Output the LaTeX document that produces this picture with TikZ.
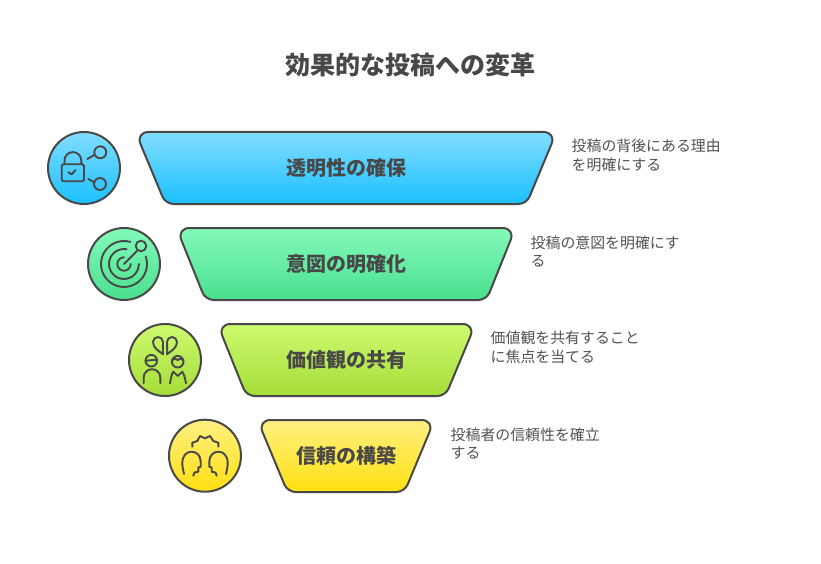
\documentclass[tikz,border=0pt]{standalone}
\usepackage{fontspec}
\setmainfont{Noto Sans CJK JP}
\definecolor{ink}{HTML}{484848}
\definecolor{note}{HTML}{525252}
\definecolor{bluetop}{HTML}{82DDFF}
\definecolor{bluebot}{HTML}{1AC0FF}
\definecolor{greentop}{HTML}{84FAB9}
\definecolor{greenbot}{HTML}{48E08F}
\definecolor{limetop}{HTML}{CDFA70}
\definecolor{limebot}{HTML}{A5DD38}
\definecolor{yellowtop}{HTML}{FFF082}
\definecolor{yellowbot}{HTML}{FFE010}
\tikzset{
   outline/.style={draw=ink, line width=2pt, line join=round, line cap=round},
   icon/.style={draw=ink, line width=1.9pt, line join=round, line cap=round},
   band/.style={outline},
   bandtext/.style={text=ink, font=\fontsize{20}{24}\selectfont\bfseries},
   desc/.style={text=note, anchor=west, align=left, inner sep=0pt, font=\fontsize{14.9}{18.5}\selectfont},
   titletext/.style={text=ink, font=\fontsize{25}{30}\selectfont\bfseries}
}

\begin{document}
\begin{tikzpicture}[x=1pt,y=-1pt]

   \useasboundingbox (0,0) rectangle (821,564);
   \fill[white] (0,0) rectangle (821,564);

   \node[titletext] (title) at (410,65.5) {効果的な投稿への変革};

   \draw[band, top color=bluetop, bottom color=bluebot] (346,132) [rounded corners=13pt] -- (135.5,132) [rounded corners=8pt] -- (165.5,204) -- (526.5,204) [rounded corners=13pt] -- (556.5,132) -- cycle;
   \draw[band, top color=greentop, bottom color=greenbot] (346,228) [rounded corners=13pt] -- (176.5,228) [rounded corners=8pt] -- (205.5,300) -- (486.5,300) [rounded corners=13pt] -- (515.5,228) -- cycle;
   \draw[band, top color=limetop, bottom color=limebot] (346,324) [rounded corners=13pt] -- (217.5,324) [rounded corners=8pt] -- (246.5,396) -- (445.5,396) [rounded corners=13pt] -- (475.5,324) -- cycle;
   \draw[band, top color=yellowtop, bottom color=yellowbot] (346,420) [rounded corners=13pt] -- (257.5,420) [rounded corners=8pt] -- (287.5,492) -- (404.5,492) [rounded corners=13pt] -- (434.5,420) -- cycle;

   \node[bandtext] (clear) at (346,168) {透明性の確保};
   \node[bandtext] (intent) at (346,264) {意図の明確化};
   \node[bandtext] (value) at (346,360) {価値観の共有};
   \node[bandtext] (trust) at (346,456) {信頼の構築};

   \node[desc] (clearnote) at (571.5,155.5) {投稿の背後にある理由\\を明確にする};
   \node[desc] (intentnote) at (530.5,251.5) {投稿の意図を明確にす\\る};
   \node[desc] (valuenote) at (490.5,347.5) {価値観を共有すること\\に焦点を当てる};
   \node[desc] (trustnote) at (450.5,443.5) {投稿者の信頼性を確立\\する};

   \draw[outline, top color=bluetop, bottom color=bluebot] (84,168) circle[radius=36];
   \draw[icon, rounded corners=1.5pt] (61.7,164.3) rectangle (84,181.3);
   \draw[icon] (64.5,164.3) -- (64.5,160.5) arc[start angle=180,end angle=360,radius=8.4] -- (81.3,164.3);
   \draw[icon] (68.3,172.3) -- (71.7,174.3) -- (75.5,170);
   \draw[icon] (87.3,159) -- (94.3,155);
   \draw[icon] (100.3,152.3) circle[radius=6];
   \draw[icon] (88.3,179) -- (94.3,182.3);
   \draw[icon] (100,184) circle[radius=6];

   \draw[outline, top color=greentop, bottom color=greenbot] (124,264) circle[radius=36];
   \draw[icon] (124,264) ++(-74:23) arc[start angle=-74,end angle=-379,radius=23];
   \draw[icon] (124,264) ++(-80:15) arc[start angle=-80,end angle=-360,radius=15];
   \draw[icon] (124,264) ++(-90:6.7) arc[start angle=-90,end angle=-360,radius=6.7];
   \draw[icon] (124,264) -- (137,251);
   \draw[icon] (141,246) circle[radius=5.3];

   \draw[outline, top color=limetop, bottom color=limebot] (165,360) circle[radius=36];
   \draw[icon] (163,354.3) .. controls (158,350.5) and (153,347.5) .. (153,342) arc[start angle=180,end angle=360,radius=5] .. controls (163,346) and (162.5,351) .. (163,354.3);
   \draw[icon] (167,354.3) .. controls (172,350.5) and (177,347.5) .. (177,342) arc[start angle=360,end angle=180,radius=5] .. controls (167,346) and (167.5,351) .. (167,354.3);
   \draw[icon] (151.3,360.7) circle[radius=5.8];
   \draw[icon] (145.5,360.7) -- (157.1,359.7);
   \draw[icon] (143.7,383.3) -- (143.7,377.5) arc[start angle=180,end angle=360,radius=8.3] -- (160.3,383.3);
   \draw[icon] (177.7,361.7) circle[radius=5.8];
   \draw[icon] (172,360.5) -- (175,358.5) -- (177.7,360) -- (180.5,358.5) -- (183.5,360.5);
   \draw[icon] (170,383.3) .. controls (171,378) and (171.5,374) .. (173.3,371.7) -- (177.7,376) -- (182.3,371.7) .. controls (184,374) and (185,378) .. (186,383.3);

   \draw[outline, top color=yellowtop, bottom color=yellowbot] (205,455.7) circle[radius=36];
   \draw[icon] (192.3,446.7) -- (192.3,442.7) -- (197.3,441) -- (200,436) -- (205,438.3) -- (210,436) -- (213.3,441) -- (218.3,442.7) -- (218.3,446.7);
   \draw[icon] (184,474) .. controls (183,470) and (182.3,466) .. (182.3,463.3) .. controls (182.3,456) and (186,451.7) .. (191.7,451.7) .. controls (197,451.7) and (200.7,456) .. (200.7,461.7) -- (200.7,466.7) -- (198.3,467.5) -- (198.3,471.7) -- (194.5,472.5) -- (193.3,475.7);
   \draw[icon] (226,474) .. controls (227,470) and (227.7,466) .. (227.7,463.3) .. controls (227.7,456) and (224,451.7) .. (218.3,451.7) .. controls (213,451.7) and (209.3,456) .. (209.3,461.7) -- (209.3,466.7) -- (211.7,467.5) -- (211.7,471.7) -- (215.5,472.5) -- (216.7,475.7);

\end{tikzpicture}
\end{document}
